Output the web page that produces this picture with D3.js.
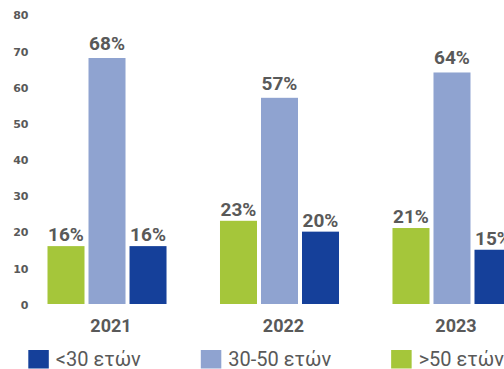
<!DOCTYPE html>
<html>
<head>
<meta charset="utf-8">
<script src="https://cdn.jsdelivr.net/npm/d3@7/dist/d3.min.js"></script>
<style>
  html, body { margin: 0; padding: 0; background: #fff; }
  svg { display: block; font-family: Roboto, "Noto Sans", sans-serif; }
</style>
</head>
<body>
<svg id="chart" width="504" height="369"></svg>
<script>
// Age distribution per year (percent)
const years = ["2021", "2022", "2023"];
const seriesKeys = ["over50", "age30to50", "under30"];
const seriesLabels = { under30: "<30 ετών", age30to50: "30-50 ετών", over50: ">50 ετών" };
const over50 = [16, 23, 21];
const age30to50 = [68, 57, 64];
const under30 = [16, 20, 15];
const yTicks = [0, 10, 20, 30, 40, 50, 60, 70, 80];
const legendOrder = ["under30", "age30to50", "over50"];

const values = { over50, age30to50, under30 };
const colors = { over50: "#a5c63a", age30to50: "#8fa3d0", under30: "#15409a" };
const textColor = "#595959";

const svg = d3.select("#chart");

const x = d3.scaleBand()
  .domain(years)
  .range([47.5, 511.5])
  .paddingInner(0.31)
  .paddingOuter(0);

const xInner = d3.scaleBand()
  .domain(seriesKeys)
  .range([0, x.bandwidth()])
  .paddingInner(0.0976);

const y = d3.scaleLinear().domain([0, 80]).range([304, 14.6]);

// Y axis: labels only, no line or tick marks
const yAxis = d3.axisLeft(y).tickValues(yTicks).tickSize(0).tickPadding(0);
const yg = svg.append("g").attr("transform", "translate(28.5,0.8)").call(yAxis);
yg.select(".domain").remove();
yg.selectAll("text")
  .attr("fill", textColor)
  .attr("font-size", 11)
  .attr("font-weight", "bold")
  .attr("font-family", "'DejaVu Sans', Verdana, sans-serif");

// Bars
const rows = years.map((yr, i) => ({
  year: yr,
  items: seriesKeys.map(k => ({ key: k, value: values[k][i] }))
}));

const groups = svg.append("g").selectAll("g.year")
  .data(rows)
  .join("g")
  .attr("class", "year")
  .attr("transform", d => `translate(${x(d.year)},0)`);

groups.selectAll("rect")
  .data(d => d.items)
  .join("rect")
  .attr("x", d => xInner(d.key))
  .attr("width", xInner.bandwidth())
  .attr("y", d => y(d.value))
  .attr("height", d => y(0) - y(d.value))
  .attr("fill", d => colors[d.key]);

// Value labels above bars
groups.selectAll("text.value")
  .data(d => d.items)
  .join("text")
  .attr("class", "value")
  .attr("x", d => xInner(d.key) + xInner.bandwidth() / 2)
  .attr("y", d => y(d.value) - (d.key === "age30to50" ? 8 : 5))
  .attr("text-anchor", "middle")
  .attr("font-size", 19)
  .attr("font-weight", "bold")
  .attr("fill", textColor)
  .text(d => d.value + "%");

// Year labels under each group
const xAxis = d3.axisBottom(x).tickSize(0).tickPadding(0);
const xg = svg.append("g").attr("transform", "translate(4,0)").call(xAxis);
xg.select(".domain").remove();
xg.selectAll("text")
  .attr("y", 331.5)
  .attr("dy", null)
  .attr("fill", textColor)
  .attr("font-size", 18)
  .attr("font-weight", "bold")
  .attr("font-family", "Roboto, sans-serif");

// Legend laid out left to right
const legend = svg.append("g").attr("transform", "translate(28.3,350)");
let cursor = 0;
legendOrder.forEach(k => {
  const item = legend.append("g").attr("transform", `translate(${cursor},0)`);
  item.append("rect").attr("width", 20.5).attr("height", 18.5).attr("fill", colors[k]);
  const t = item.append("text")
    .attr("x", 27.5)
    .attr("y", 16)
    .attr("font-size", 20)
    .attr("fill", textColor)
    .text(seriesLabels[k]);
  cursor += 27.5 + t.node().getComputedTextLength() + 60;
});
</script>
</body>
</html>
